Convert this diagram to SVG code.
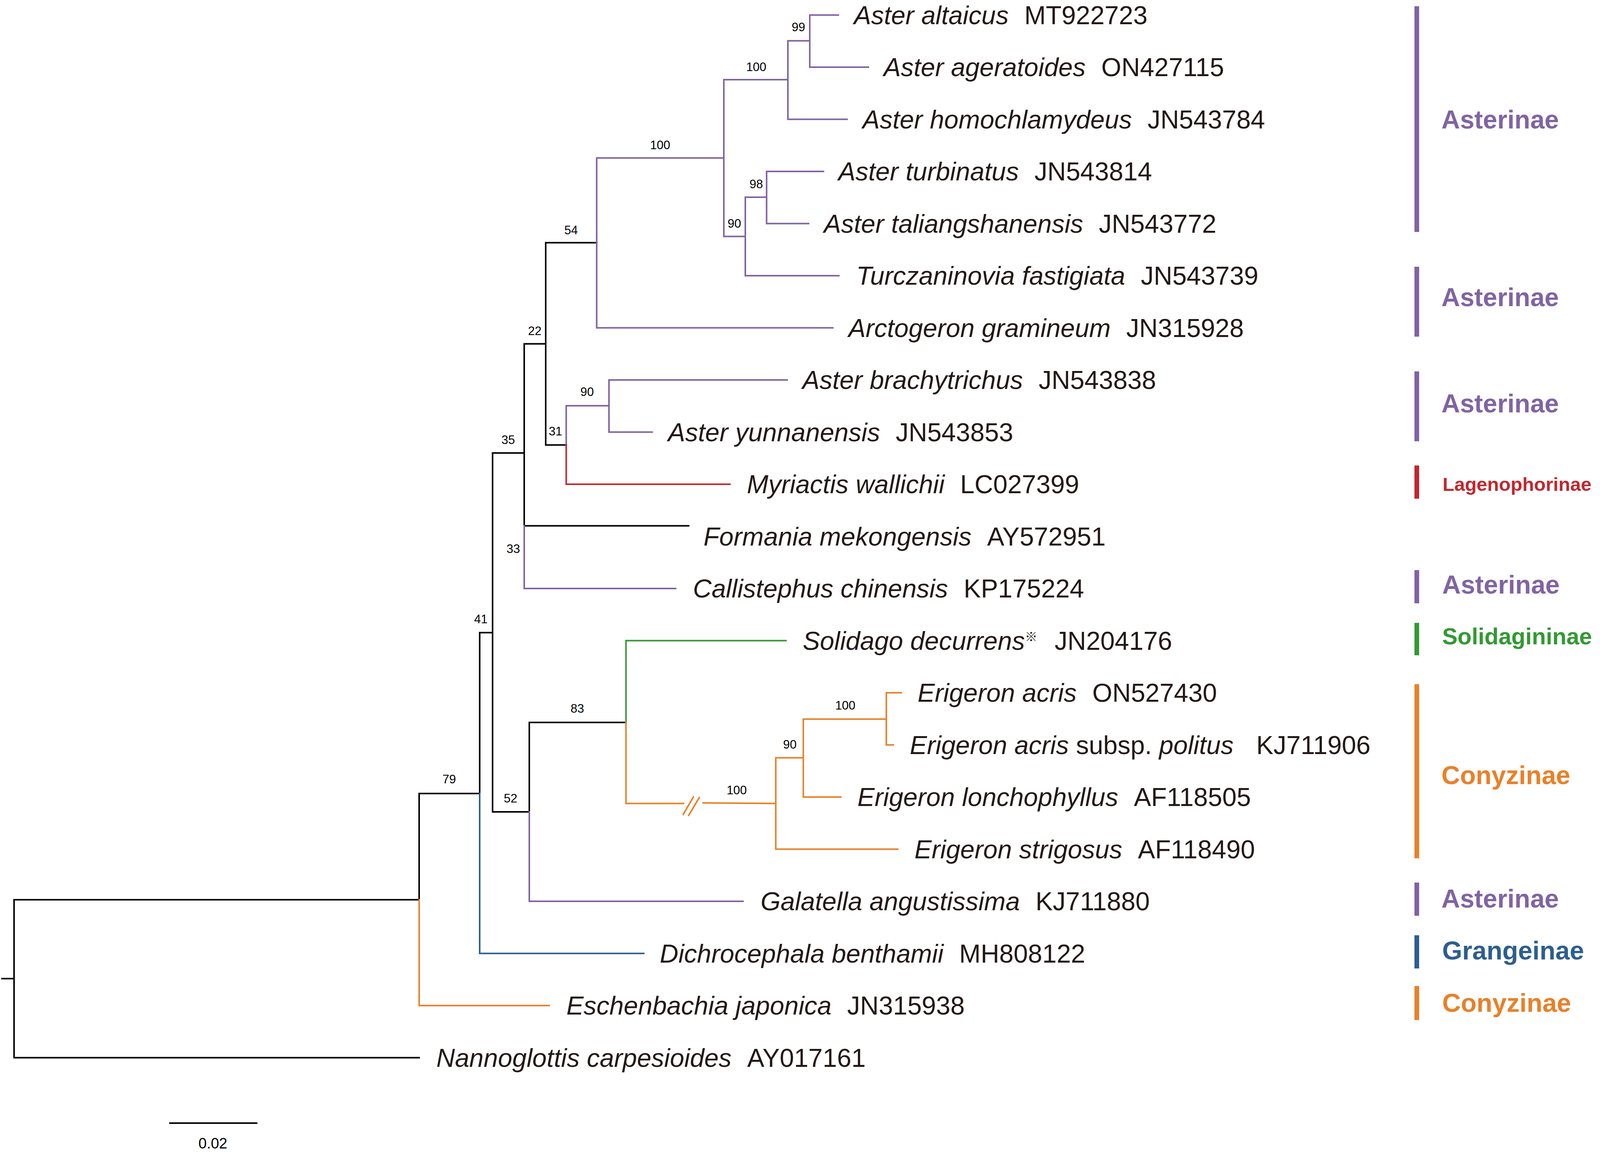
<svg xmlns="http://www.w3.org/2000/svg" width="4270" height="2950" viewBox="0 0 4270 2950">
<style>
.k{stroke:#000;stroke-width:4;fill:none;stroke-linecap:square}
.p{stroke:#8064A2;stroke-width:4;fill:none;stroke-linecap:square}
.r{stroke:#C1272D;stroke-width:4;fill:none;stroke-linecap:square}
.g{stroke:#339933;stroke-width:4;fill:none;stroke-linecap:square}
.o{stroke:#E8812A;stroke-width:4;fill:none;stroke-linecap:square}
.bl{stroke:#2E5E8E;stroke-width:4;fill:none;stroke-linecap:square}
.sp{font-family:"Liberation Sans",Arial,sans-serif;font-size:66px;fill:#231815}
.it{font-style:italic}
.bs{font-family:"Liberation Sans",Arial,sans-serif;font-size:31px;fill:#000;text-anchor:middle}
.cl{font-family:"Liberation Sans",Arial,sans-serif;font-size:66px;font-weight:bold}
.cp{fill:#8064A2}.cr{fill:#C1272D}.cg{fill:#339933}.co{fill:#E8812A}.cb{fill:#2E5E8E}
</style>
<rect x="0" y="0" width="4270" height="2950" fill="#fff"/>
<g id="connectors">
<path class="k" d="M5 2506H36M36 2304V2708.5M36 2304H1073M36 2708.5H1073"/>
<path class="k" d="M1073 2032V2304M1073 2032H1228"/>
<path class="o" d="M1073 2304V2575H1406"/>
<path class="k" d="M1228 1620V2032M1228 1620H1261"/>
<path class="bl" d="M1228 2032V2441.5H1648"/>
<path class="k" d="M1261 1160V2079M1261 1160H1342M1261 2079H1355"/>
<path class="k" d="M1342 880.5V1346.5M1342 1346.5H1763M1342 880.5H1397"/>
<path class="p" d="M1342 1346.5V1507H1729.5"/>
<path class="k" d="M1397 621.5V1139.5M1397 621.5H1527.5M1397 1139.5H1449.5"/>
<path class="p" d="M1449.5 1139.5V1039H1559M1559 973V1106.5M1559 973H2015M1559 1106.5H1669.5"/>
<path class="r" d="M1449.5 1139.5V1240H1868.5"/>
<path class="p" d="M1527.5 404.5V839.5H2132M1527.5 404.5H1853M1853 204V605.5M1853 204H2017M2017 104.5V305.5H2168.5M2017 104.5H2073M2073 38.5V172M2073 38.5H2146M2073 172H2223M1853 605.5H1908M1908 505V706H2147.5M1908 505H1962.5M1962.5 439V572.5M1962.5 439H2108M1962.5 572.5H2070"/>
<path class="k" d="M1355 1850V2079M1355 1850H1602.5"/>
<path class="p" d="M1355 2079V2308H1902"/>
<path class="g" d="M1602.5 1850V1640.5H2012"/>
<path class="o" d="M1602.5 1850V2057.5H1750M1800 2056L1986 2057.5M1749 2085.5L1775 2041M1763 2088L1790 2042.5M1986 1940.5V2174.5H2298M1986 1940.5H2056.5M2056.5 1841.5V2041H2152.5M2056.5 1841.5H2269M2269 1774V1907.5M2269 1774H2307M2269 1907.5H2287"/>
<path class="k" d="M435 2876H657"/>
</g>
<g id="support">
<text class="bs" x="2044" y="80">99</text>
<text class="bs" x="1936" y="182">100</text>
<text class="bs" x="1690" y="382">100</text>
<text class="bs" x="1936" y="482">98</text>
<text class="bs" x="1880" y="583">90</text>
<text class="bs" x="1462" y="600">54</text>
<text class="bs" x="1369" y="858">22</text>
<text class="bs" x="1503" y="1014">90</text>
<text class="bs" x="1422" y="1115">31</text>
<text class="bs" x="1301" y="1137">35</text>
<text class="bs" x="1314" y="1416">33</text>
<text class="bs" x="1231" y="1596">41</text>
<text class="bs" x="1478" y="1825">83</text>
<text class="bs" x="2164" y="1817">100</text>
<text class="bs" x="2022" y="1917">90</text>
<text class="bs" x="1886" y="2034">100</text>
<text class="bs" x="1150" y="2006">79</text>
<text class="bs" x="1307" y="2055">52</text>
<text class="bs" x="545" y="2941" style="font-size:38px">0.02</text>
</g>
<g id="taxa">
<g id="t01"><text class="sp" x="2186" y="61.5"><tspan class="it">Aster altaicus</tspan><tspan dx="40">MT922723</tspan></text></g>
<g id="t02"><text class="sp" x="2262" y="195"><tspan class="it">Aster ageratoides</tspan><tspan dx="40">ON427115</tspan></text></g>
<g id="t03"><text class="sp" x="2208" y="328.5"><tspan class="it">Aster homochlamydeus</tspan><tspan dx="40">JN543784</tspan></text></g>
<g id="t04"><text class="sp" x="2146" y="462"><tspan class="it">Aster turbinatus</tspan><tspan dx="40">JN543814</tspan></text></g>
<g id="t05"><text class="sp" x="2109" y="595.5"><tspan class="it">Aster taliangshanensis</tspan><tspan dx="40">JN543772</tspan></text></g>
<g id="t06"><text class="sp" x="2192" y="729"><tspan class="it">Turczaninovia fastigiata</tspan><tspan dx="40">JN543739</tspan></text></g>
<g id="t07"><text class="sp" x="2172" y="862.5"><tspan class="it">Arctogeron gramineum</tspan><tspan dx="40">JN315928</tspan></text></g>
<g id="t08"><text class="sp" x="2054" y="996"><tspan class="it">Aster brachytrichus</tspan><tspan dx="40">JN543838</tspan></text></g>
<g id="t09"><text class="sp" x="1710" y="1129.5"><tspan class="it">Aster yunnanensis</tspan><tspan dx="40">JN543853</tspan></text></g>
<g id="t10"><text class="sp" x="1912" y="1263"><tspan class="it">Myriactis wallichii</tspan><tspan dx="40">LC027399</tspan></text></g>
<g id="t11"><text class="sp" x="1801" y="1396.5"><tspan class="it">Formania mekongensis</tspan><tspan dx="40">AY572951</tspan></text></g>
<g id="t12"><text class="sp" x="1774" y="1530"><tspan class="it">Callistephus chinensis</tspan><tspan dx="40">KP175224</tspan></text></g>
<g id="t13"><text class="sp" x="2055" y="1663.5"><tspan class="it">Solidago decurrens</tspan><tspan style="font-family:'Noto Sans CJK SC','DejaVu Sans',sans-serif;font-size:32px;font-style:normal" dy="-22">※</tspan><tspan dy="22" dx="44">JN204176</tspan></text></g>
<g id="t14"><text class="sp" x="2349" y="1797"><tspan class="it">Erigeron acris</tspan><tspan dx="40">ON527430</tspan></text></g>
<g id="t15"><text class="sp" x="2329" y="1930.5"><tspan class="it">Erigeron acris</tspan> subsp. <tspan class="it">politus</tspan><tspan dx="58">KJ711906</tspan></text></g>
<g id="t16"><text class="sp" x="2195" y="2064"><tspan class="it">Erigeron lonchophyllus</tspan><tspan dx="40">AF118505</tspan></text></g>
<g id="t17"><text class="sp" x="2341" y="2197.5"><tspan class="it">Erigeron strigosus</tspan><tspan dx="40">AF118490</tspan></text></g>
<g id="t18"><text class="sp" x="1947" y="2331"><tspan class="it">Galatella angustissima</tspan><tspan dx="40">KJ711880</tspan></text></g>
<g id="t19"><text class="sp" x="1689" y="2464.5"><tspan class="it">Dichrocephala benthamii</tspan><tspan dx="40">MH808122</tspan></text></g>
<g id="t20"><text class="sp" x="1450" y="2598"><tspan class="it">Eschenbachia japonica</tspan><tspan dx="40">JN315938</tspan></text></g>
<g id="t21"><text class="sp" x="1117" y="2731.5"><tspan class="it">Nannoglottis carpesioides</tspan><tspan dx="40">AY017161</tspan></text></g>
</g>
<g id="clades">
<g id="c01"><rect class="cp" x="3621" y="16" width="12" height="578"/><text class="cl cp" x="3690" y="329">Asterinae</text></g>
<g id="c02"><rect class="cp" x="3621" y="683" width="12" height="179"/><text class="cl cp" x="3690" y="784">Asterinae</text></g>
<g id="c03"><rect class="cp" x="3621" y="951" width="12" height="179"/><text class="cl cp" x="3690" y="1056">Asterinae</text></g>
<g id="c04"><rect class="cr" x="3621" y="1192" width="12" height="85"/><text class="cl cr" x="3693" y="1257" style="font-size:49px">Lagenophorinae</text></g>
<g id="c05"><rect class="cp" x="3621" y="1460" width="12" height="85"/><text class="cl cp" x="3692" y="1520">Asterinae</text></g>
<g id="c06"><rect class="cg" x="3621" y="1595" width="12" height="83"/><text class="cl cg" x="3692" y="1650" style="font-size:59px">Solidagininae</text></g>
<g id="c07"><rect class="co" x="3621" y="1752" width="12" height="446"/><text class="cl co" x="3690" y="2008">Conyzinae</text></g>
<g id="c08"><rect class="cp" x="3621" y="2260" width="12" height="85"/><text class="cl cp" x="3690" y="2324">Asterinae</text></g>
<g id="c09"><rect class="cb" x="3621" y="2395" width="12" height="85"/><text class="cl cb" x="3692" y="2457">Grangeinae</text></g>
<g id="c10"><rect class="co" x="3621" y="2525" width="12" height="87"/><text class="cl co" x="3692" y="2591">Conyzinae</text></g>
</g>
</svg>
